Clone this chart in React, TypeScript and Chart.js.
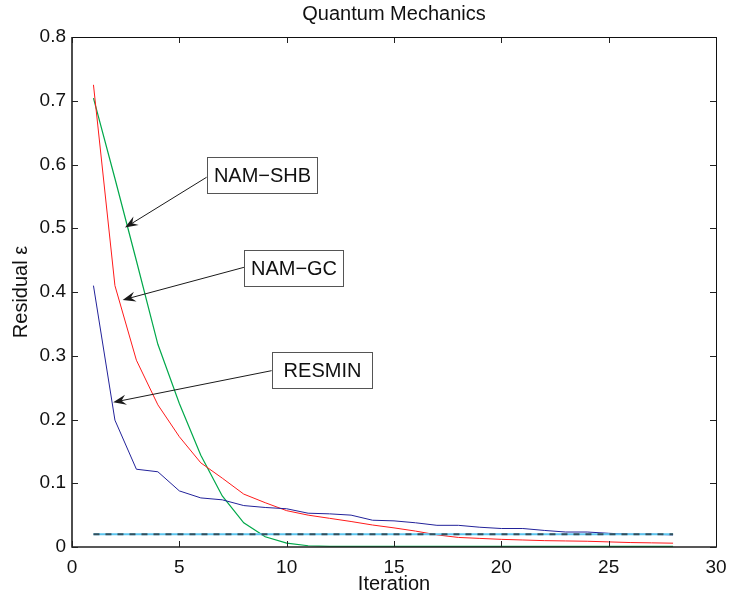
import React, { useEffect, useRef } from "react";
import { Chart, registerables } from "chart.js";

Chart.register(...registerables);

const FONT = '"Liberation Sans", Arial, Helvetica, sans-serif';

const iterations = [1, 2, 3, 4, 5, 6, 7, 8, 9, 10, 11, 12, 13, 14, 15, 16, 17, 18, 19, 20, 21, 22, 23, 24, 25, 26, 27, 28];

const resmin = [0.41, 0.199, 0.122, 0.118, 0.088, 0.077, 0.074, 0.065, 0.062, 0.06, 0.053, 0.052, 0.05, 0.042, 0.041, 0.038, 0.034, 0.034, 0.031, 0.029, 0.029, 0.026, 0.0235, 0.0235, 0.0215, 0.02, 0.02, 0.019];

const namGC = [0.725, 0.41, 0.293, 0.223, 0.173, 0.132, 0.108, 0.083, 0.0695, 0.057, 0.05, 0.045, 0.04, 0.0345, 0.03, 0.025, 0.019, 0.015, 0.0135, 0.012, 0.011, 0.01, 0.0095, 0.009, 0.008, 0.007, 0.0065, 0.006];

const namSHB = [0.704, 0.578, 0.449, 0.318, 0.225, 0.144, 0.08, 0.038, 0.016, 0.006, 0.002, 0.001, 0.001, 0.001, 0.001, 0.001, 0.001, 0.001, 0.001, 0.001, 0.001, 0.001, 0.001, 0.001, 0.001, 0.001, 0.001, 0.001];

const thresholdX = [1, 28];
const thresholdY = [0.02, 0.02];

const xTicks = [0, 5, 10, 15, 20, 25, 30];
const yTicks = [0, 0.1, 0.2, 0.3, 0.4, 0.5, 0.6, 0.7, 0.8];

const titleText = "Quantum Mechanics";
const xLabel = "Iteration";
const yLabel = "Residual \u03b5";

// annotation anchors in data coordinates
const annLabels = ["NAM\u2212SHB", "NAM\u2212GC", "RESMIN"];
const annTipX = [2.47, 2.36, 1.92];
const annTipY = [0.501, 0.3875, 0.227];
const annBoxLeft = [6.27, 8.01, 9.3];
const annBoxRight = [11.4, 12.64, 13.96];
const annBoxY = [0.584, 0.4384, 0.278];
const annStartY = [0.58, 0.4387, 0.2766];

const pts = (xs: number[], ys: number[]) => xs.map((x, i) => ({ x, y: ys[i] }));

const framePlugin = {
  id: "matlabFrame",
  afterDraw(chart: any) {
    const { ctx, chartArea } = chart;
    const { left, right, top, bottom } = chartArea;
    const xs = chart.scales.x;
    const ys = chart.scales.y;
    ctx.save();
    // inward ticks
    ctx.strokeStyle = "#222";
    ctx.lineWidth = 1;
    const tl = 6;
    ctx.beginPath();
    xTicks.forEach((v) => {
      const px = Math.round(xs.getPixelForValue(v)) + 0.5;
      ctx.moveTo(px, bottom);
      ctx.lineTo(px, bottom - tl);
      ctx.moveTo(px, top);
      ctx.lineTo(px, top + tl);
    });
    yTicks.forEach((v) => {
      const py = Math.round(ys.getPixelForValue(v)) + 0.5;
      ctx.moveTo(left, py);
      ctx.lineTo(left + tl, py);
      ctx.moveTo(right, py);
      ctx.lineTo(right - tl, py);
    });
    ctx.stroke();
    // box
    ctx.lineWidth = 1;
    ctx.strokeStyle = "#111";
    ctx.beginPath();
    ctx.moveTo(left, top + 0.5);
    ctx.lineTo(right + 0.5, top + 0.5);
    ctx.lineTo(right + 0.5, bottom);
    ctx.stroke();
    ctx.lineWidth = 1.6;
    ctx.strokeStyle = "#222";
    ctx.beginPath();
    ctx.moveTo(left, top);
    ctx.lineTo(left, bottom);
    ctx.lineTo(right + 1, bottom);
    ctx.stroke();

    // annotations
    const boxH = 36;
    annLabels.forEach((label, i) => {
      const tx = xs.getPixelForValue(annTipX[i]);
      const ty = ys.getPixelForValue(annTipY[i]);
      const bl = xs.getPixelForValue(annBoxLeft[i]);
      const br = xs.getPixelForValue(annBoxRight[i]);
      const by = ys.getPixelForValue(annBoxY[i]);
      const sy = ys.getPixelForValue(annStartY[i]);
      // arrow line
      const ang = Math.atan2(ty - sy, tx - bl);
      const L = 13;
      const W = 5;
      const ux = Math.cos(ang);
      const uy = Math.sin(ang);
      ctx.strokeStyle = "#1a1a1a";
      ctx.lineWidth = 1;
      ctx.beginPath();
      ctx.moveTo(bl, sy);
      ctx.lineTo(tx - ux * L * 0.6, ty - uy * L * 0.6);
      ctx.stroke();
      // arrow head (vback2 style)
      const bx = tx - ux * L;
      const byy = ty - uy * L;
      ctx.fillStyle = "#1a1a1a";
      ctx.beginPath();
      ctx.moveTo(tx, ty);
      ctx.lineTo(bx - uy * W, byy + ux * W);
      ctx.lineTo(tx - ux * L * 0.65, ty - uy * L * 0.65);
      ctx.lineTo(bx + uy * W, byy - ux * W);
      ctx.closePath();
      ctx.fill();
      // box
      const rl = Math.round(bl) + 0.5;
      const rr = Math.round(br) + 0.5;
      const rt = Math.round(by - boxH / 2) + 0.5;
      ctx.fillStyle = "#fff";
      ctx.fillRect(rl, rt, rr - rl, boxH);
      ctx.strokeStyle = "#555";
      ctx.lineWidth = 1;
      ctx.strokeRect(rl, rt, rr - rl, boxH);
      ctx.fillStyle = "#111";
      ctx.font = `20px ${FONT}`;
      ctx.textAlign = "center";
      ctx.textBaseline = "middle";
      ctx.fillText(label, (rl + rr) / 2, rt + boxH / 2 + 1);
    });
    ctx.restore();
  },
};

export default function App() {
  const ref = useRef<HTMLCanvasElement | null>(null);

  useEffect(() => {
    if (!ref.current) return;
    const chart = new Chart(ref.current, {
      type: "line",
      data: {
        datasets: [
          {
            label: "threshold dashes",
            data: pts(thresholdX, thresholdY),
            borderColor: "#35505c",
            borderWidth: 2,
            borderDash: [6, 6],
            pointRadius: 0,
            fill: false,
          },
          {
            label: "threshold",
            data: pts(thresholdX, thresholdY),
            borderColor: "#5cc6f0",
            borderWidth: 2,
            pointRadius: 0,
            fill: false,
          },
          {
            label: "RESMIN",
            data: pts(iterations, resmin),
            borderColor: "#22229a",
            borderWidth: 1,
            pointRadius: 0,
            tension: 0,
            fill: false,
          },
          {
            label: "NAM-GC",
            data: pts(iterations, namGC),
            borderColor: "#ff1a1a",
            borderWidth: 1,
            pointRadius: 0,
            tension: 0,
            fill: false,
          },
          {
            label: "NAM-SHB",
            data: pts(iterations, namSHB),
            borderColor: "#00a84a",
            borderWidth: 1.2,
            pointRadius: 0,
            tension: 0,
            fill: false,
          },
        ],
      },
      options: {
        animation: false,
        responsive: false,
        devicePixelRatio: 1,
        events: [],
        layout: { padding: { left: 0, right: 14, top: 0, bottom: 0 } },
        plugins: {
          legend: { display: false },
          tooltip: { enabled: false },
          title: {
            display: true,
            text: titleText,
            fullSize: false,
            color: "#111",
            font: { family: FONT, size: 20, weight: "normal", lineHeight: 1.2 },
            padding: { top: 2, bottom: 11 },
          },
        },
        scales: {
          x: {
            type: "linear",
            min: 0,
            max: 30,
            afterFit: (s: any) => {
              s.height = 51;
              s.paddingLeft = 0;
              s.paddingRight = 0;
            },
            afterBuildTicks: (s: any) => {
              s.ticks = xTicks.map((v) => ({ value: v }));
            },
            grid: { display: false, drawTicks: false },
            border: { display: false },
            ticks: {
              color: "#111",
              padding: 9,
              font: { family: FONT, size: 19 },
            },
            title: {
              display: true,
              text: xLabel,
              color: "#111",
              font: { family: FONT, size: 20, lineHeight: 1.2 },
              padding: { top: 0, bottom: 2 },
            },
          },
          y: {
            type: "linear",
            min: 0,
            max: 0.8,
            afterFit: (s: any) => {
              s.width = 72;
              s.paddingTop = 0;
              s.paddingBottom = 0;
            },
            afterBuildTicks: (s: any) => {
              s.ticks = yTicks.map((v) => ({ value: v }));
            },
            grid: { display: false, drawTicks: false },
            border: { display: false },
            ticks: {
              color: "#111",
              padding: 6,
              font: { family: FONT, size: 19 },
            },
            title: {
              display: true,
              text: yLabel,
              color: "#111",
              font: { family: FONT, size: 20, lineHeight: 1.2 },
              padding: { top: 9, bottom: 0 },
            },
          },
        },
      },
      plugins: [framePlugin],
    } as any);
    return () => chart.destroy();
  }, []);

  return (
    <div style={{ position: "absolute", left: 0, top: 0, width: 730, height: 598, background: "#fff" }}>
      <canvas ref={ref} width={730} height={598} style={{ display: "block", width: 730, height: 598 }} />
    </div>
  );
}
